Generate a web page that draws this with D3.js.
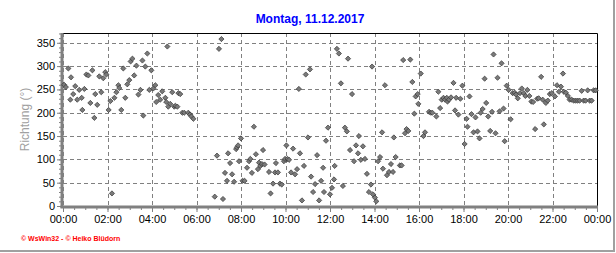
<!DOCTYPE html>
<html>
<head>
<meta charset="utf-8">
<script src="https://cdn.jsdelivr.net/npm/d3@7"></script>
<style>
  body { margin: 0; background: #fff; }
  text { font-family: "Liberation Sans", Arial, sans-serif; }
</style>
</head>
<body>
<div id="chart"></div>
<script>
// Windrichtung, 11.12.2017 (Stunden, Grad)
const hours = [
  0.05, 0.13, 0.24, 0.33, 0.36, 0.46, 0.55, 0.64, 0.73, 0.84, 0.87, 0.96, 1.05, 1.14, 1.23, 1.32, 1.41, 1.45, 1.54, 1.63,
  1.72, 1.81, 1.90, 1.95, 2.05, 2.13, 2.20, 2.31, 2.40, 2.49, 2.53, 2.62, 2.71, 2.80, 2.89, 2.98, 3.04, 3.12, 3.20, 3.30,
  3.39, 3.48, 3.57, 3.61, 3.70, 3.79, 3.88, 3.97, 4.06, 4.15, 4.19, 4.28, 4.37, 4.46, 4.60, 4.64, 4.69, 4.73, 4.82, 4.91,
  5.00, 5.05, 5.14, 5.19, 5.27, 5.36, 5.45, 5.63, 5.71, 5.77, 5.86,
  6.82, 6.92, 7.01, 7.12, 7.19, 7.28, 7.37, 7.42, 7.51, 7.60, 7.69, 7.78, 7.82, 7.87, 7.91, 8.00, 8.07, 8.16, 8.27, 8.36,
  8.42, 8.49, 8.58, 8.67, 8.76, 8.81, 8.87, 8.94, 8.99, 9.06, 9.26, 9.33, 9.44, 9.53, 9.57, 9.66, 9.75, 9.83, 9.93, 9.98,
  10.04, 10.09, 10.16, 10.25, 10.34, 10.43, 10.52, 10.60, 10.65, 10.74, 10.83, 10.91, 11.01, 11.10, 11.15, 11.24, 11.33, 11.42, 11.51, 11.60,
  11.69, 11.73, 11.82, 11.91, 12.00, 12.09, 12.18, 12.21, 12.31, 12.40, 12.49, 12.58, 12.67, 12.76, 12.81, 12.90, 12.99, 13.08, 13.17, 13.26,
  13.30, 13.39, 13.48, 13.57, 13.66, 13.75, 13.84, 13.89, 13.93, 14.02, 14.08, 14.16, 14.25, 14.34, 14.38, 14.47, 14.56, 14.65,
  14.74, 14.83, 14.87, 14.95, 15.14, 15.22, 15.29, 15.37, 15.44, 15.52, 15.61, 15.70, 15.79, 15.85, 15.94, 15.97, 16.08, 16.20, 16.27, 16.45,
  16.53, 16.60, 16.78, 16.87, 16.95, 17.02, 17.10, 17.17, 17.25, 17.28, 17.35, 17.44, 17.55, 17.62, 17.67, 17.77, 17.86, 17.95, 18.05, 18.14,
  18.18, 18.27, 18.36, 18.45, 18.54, 18.63, 18.72, 18.77, 18.86, 18.95, 19.02, 19.11, 19.20, 19.28, 19.35, 19.44, 19.53, 19.62, 19.71, 19.80,
  19.85, 19.94, 20.03, 20.12, 20.21, 20.30, 20.36, 20.44, 20.54, 20.62, 20.71, 20.78, 20.87, 20.96, 21.05, 21.13, 21.22, 21.31, 21.38, 21.49,
  21.56, 21.61, 21.70, 21.79, 21.88, 21.97, 22.11, 22.20, 22.29, 22.38, 22.47, 22.51, 22.60, 22.69, 22.77, 22.86, 22.95, 23.04, 23.13, 23.22,
  23.31, 23.40, 23.49, 23.58, 23.67, 23.76, 23.85, 23.94
];
const richtung = [
  260, 255, 295, 228, 276, 240, 257, 228, 249, 232, 206, 251, 282, 280, 221, 291, 189, 240, 217, 278,
  244, 274, 287, 282, 206, 225, 27, 232, 244, 259, 253, 206, 295, 232, 261, 270, 310, 316, 280, 301,
  239, 249, 312, 194, 299, 327, 249, 291, 252, 259, 223, 238, 228, 246, 232, 223, 342, 213, 219, 244,
  213, 215, 213, 242, 240, 200, 200, 200, 196, 192, 187,
  20, 108, 337, 358, 15, 71, 54, 113, 92, 68, 52, 122, 126, 130, 96, 145, 54, 54, 82, 96,
  101, 71, 170, 111, 79, 93, 86, 90, 120, 89, 73, 27, 48, 72, 92, 72, 48, 46, 96, 101,
  130, 101, 99, 72, 123, 68, 79, 251, 113, 12, 86, 282, 147, 293, 63, 30, 47, 109, 12, 54,
  82, 30, 140, 168, 25, 39, 57, 86, 337, 327, 263, 43, 168, 160, 316, 120, 240, 96, 130, 113,
  150, 99, 128, 101, 69, 30, 46, 299, 25, 18, 10, 96, 105, 158, 80, 259, 66, 73,
  90, 73, 147, 105, 87, 87, 313, 156, 165, 161, 314, 266, 198, 235, 240, 219, 284, 150, 158, 202,
  200, 200, 192, 245, 210, 228, 232, 228, 232, 224, 228, 233, 264, 205, 232, 196, 230, 258, 133, 187,
  170, 235, 197, 158, 190, 160, 145, 200, 208, 273, 221, 192, 161, 202, 325, 156, 275, 203, 306, 209,
  139, 258, 249, 186, 242, 243, 239, 231, 242, 252, 242, 236, 249, 236, 224, 223, 165, 230, 231, 277,
  228, 175, 221, 226, 240, 242, 235, 259, 245, 256, 284, 245, 243, 236, 228, 228, 226, 226, 226, 226,
  247, 226, 226, 248, 226, 226, 248, 248
];
const yTicks = [0, 50, 100, 150, 200, 250, 300, 350];
const xTicks = [0, 2, 4, 6, 8, 10, 12, 14, 16, 18, 20, 22, 24];
const xLabels = ["00:00", "02:00", "04:00", "06:00", "08:00", "10:00", "12:00",
                 "14:00", "16:00", "18:00", "20:00", "22:00", "00:00"];
const titel = "Montag, 11.12.2017";
const achsenTitel = "Richtung (°)";
const copyright = "© WsWin32 - © Heiko Blüdorn";

const width = 616, height = 253;
const pLeft = 63, pRight = 597, pTop = 33, pBottom = 206;

const svg = d3.select('#chart').append('svg')
    .attr('width', width)
    .attr('height', height)
    .style('display', 'block')
    .style('background', '#fff');

const x = d3.scaleLinear().domain([0, 24]).range([pLeft, pRight]);
const y = d3.scaleLinear().domain([0, 371]).range([pBottom, pTop]);

// Gitter
svg.append('g').selectAll('line').data(yTicks.slice(1))
    .enter().append('line')
    .attr('x1', pLeft).attr('x2', pRight)
    .attr('y1', d => Math.round(y(d)) + 0.5).attr('y2', d => Math.round(y(d)) + 0.5)
    .attr('stroke', '#808080').attr('stroke-dasharray', '4,3');
svg.append('g').selectAll('line').data(xTicks.slice(0, -1))
    .enter().append('line')
    .attr('x1', d => Math.round(x(d)) + 0.5).attr('x2', d => Math.round(x(d)) + 0.5)
    .attr('y1', pTop).attr('y2', pBottom)
    .attr('stroke', '#808080').attr('stroke-dasharray', '4,3');

// Rahmen oben/rechts
svg.append('path')
    .attr('d', `M${pLeft},${pTop + 0.5}H${pRight + 0.5}V${pBottom}`)
    .attr('fill', 'none').attr('stroke', '#000');

// Achsen
const yAxis = d3.axisLeft(y).tickValues(yTicks).tickSize(5).tickPadding(2);
const yMinor = d3.axisLeft(y).tickValues(d3.range(0, 371, 10)).tickSize(3).tickFormat('');
const xAxis = d3.axisBottom(x).tickValues(xTicks).tickSize(5).tickPadding(3)
    .tickFormat((d, i) => xLabels[i]);
const xMinor = d3.axisBottom(x).tickValues(d3.range(0, 24.01, 0.5)).tickSize(3).tickFormat('');

function style(g) {
    g.select('.domain').remove();
    g.selectAll('.tick line').attr('stroke', '#808080');
    g.selectAll('.tick text').attr('fill', '#000').style('font-size', '11px')
        .style('font-family', '"Liberation Sans", Arial, sans-serif');
}
svg.append('g').attr('transform', `translate(${pLeft - 1},0)`).call(yMinor).call(style);
svg.append('g').attr('transform', `translate(${pLeft - 1},0)`).call(yAxis).call(style);
svg.append('g').attr('transform', `translate(0,${pBottom + 1})`).call(xMinor).call(style);
svg.append('g').attr('transform', `translate(0,${pBottom + 1})`).call(xAxis).call(style);

svg.append('line')
    .attr('x1', pLeft - 1).attr('x2', pLeft - 1).attr('y1', pTop).attr('y2', pBottom + 2)
    .attr('stroke', '#808080').attr('stroke-width', 3);
svg.append('line')
    .attr('x1', pLeft - 2.5).attr('x2', pRight + 1).attr('y1', pBottom + 1).attr('y2', pBottom + 1)
    .attr('stroke', '#808080').attr('stroke-width', 3);

// Punkte
const diamond = 'M0,-2.6L2.6,0L0,2.6L-2.6,0Z';
svg.append('g').selectAll('path').data(hours)
    .enter().append('path')
    .attr('d', diamond)
    .attr('transform', (d, i) => `translate(${x(d)},${y(richtung[i])})`)
    .attr('fill', '#7a7a7a')
    .attr('stroke', '#333')
    .attr('stroke-width', 0.7);

// Texte
svg.append('text')
    .attr('x', 310).attr('y', 23)
    .attr('text-anchor', 'middle')
    .attr('fill', '#0000ff')
    .style('font-size', '12px').style('font-weight', 'bold')
    .text(titel);

svg.append('text')
    .attr('transform', `translate(29,${(pTop + pBottom) / 2}) rotate(-90)`)
    .attr('text-anchor', 'middle')
    .attr('fill', '#a0a0a0')
    .style('font-size', '12px')
    .text(achsenTitel);

svg.append('text')
    .attr('x', 21).attr('y', 241)
    .attr('fill', '#ff0000')
    .style('font-size', '7px').style('font-weight', 'bold')
    .text(copyright);

// äußerer Rahmen
svg.append('path')
    .attr('d', `M${width - 2},0V${height - 2}H0`)
    .attr('fill', 'none').attr('stroke', '#a0a0a0').attr('stroke-width', 2);
</script>
</body>
</html>
